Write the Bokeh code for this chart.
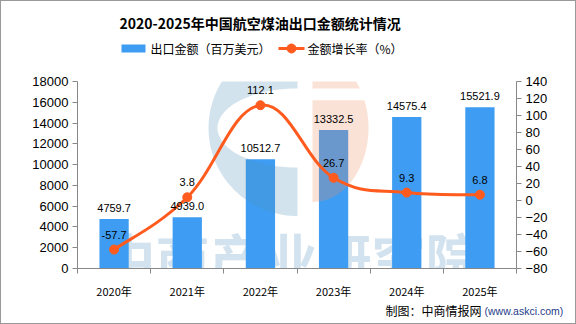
import numpy as np
from bokeh.plotting import figure
from bokeh.layouts import column
from bokeh.models import Range1d, LinearAxis, FixedTicker, Label
from bokeh.core.properties import value
from bokeh.embed import file_html
from bokeh.resources import INLINE

years = ["2020年", "2021年", "2022年", "2023年", "2024年", "2025年"]
export_value = [4759.7, 4939.0, 10512.7, 13332.5, 14575.4, 15521.9]
growth = [-57.7, 3.8, 112.1, 26.7, 9.3, 6.8]
left_ticks = list(range(0, 18001, 2000))
right_ticks = list(range(-80, 141, 20))

TITLE = "2020-2025年中国航空煤油出口金额统计情况"
BAR_NAME = "出口金额（百万美元）"
LINE_NAME = "金额增长率（%）"
SOURCE = "制图：中商情报网"
SOURCE_URL = "(www.askci.com)"
WATERMARK = "中商产业研究院"

BAR = "#3E9DF2"
LINE = "#FF5B1F"
AXIS = "#888888"
CJK = "Noto Sans CJK SC"
NUM = "Liberation Sans"
W = 574
HEAD_H, MAIN_H, FOOT_H = 70, 230, 22
ML, MR, MT, MB = 76, 59, 10, 31
FW, FH = W - ML - MR, MAIN_H - MT - MB

xs = list(range(len(years)))
YMAX = 18000


def bare(h, w=W):
    f = figure(width=w, height=h, output_backend="svg", toolbar_location=None,
               x_axis_type=None, y_axis_type=None, min_border=0, frame_align=False,
               x_range=Range1d(0, w), y_range=Range1d(h, 0))
    f.grid.visible = False
    f.outline_line_color = None
    return f


# ---------- header: title + hand-drawn legend ----------
head = bare(HEAD_H)
head.text(x=[118], y=[21], text=[TITLE], text_align="left", text_baseline="middle",
          text_font=value(CJK), text_font_size="14px", text_font_style="bold",
          text_color="black")
head.quad(left=[120], right=[144], top=[43], bottom=[51], fill_color=BAR, line_color=None)
head.text(x=[149], y=[47], text=[BAR_NAME], text_align="left", text_baseline="middle",
          text_font=value(CJK), text_font_size="12px", text_color="black")
head.segment(x0=[277], y0=[47], x1=[303], y1=[47], line_color=LINE, line_width=3)
head.scatter(x=[290], y=[47], size=9, fill_color=LINE, line_color=LINE)
head.text(x=[306], y=[47], text=[LINE_NAME], text_align="left", text_baseline="middle",
          text_font=value(CJK), text_font_size="12px", text_color="black")

# ---------- main plot ----------
p = figure(width=W, height=MAIN_H, output_backend="svg", toolbar_location=None,
           frame_align=False,
           x_range=Range1d(-0.5, len(years) - 0.5), y_range=Range1d(0, YMAX),
           min_border_left=ML, min_border_right=MR, min_border_top=MT, min_border_bottom=MB)
p.extra_y_ranges = {"growth": Range1d(-80, 140)}
p.xgrid.visible = False
p.ygrid.visible = False
p.outline_line_color = None

# watermark text, behind the bars
p.add_layout(Label(x=213, y=12, x_units="screen", y_units="screen", text=WATERMARK,
                   text_align="center", text_baseline="middle", text_font=CJK,
                   text_font_size="54px", text_font_style="bold", text_color="#D2E3EF",
                   level="underlay"))

# x axis
p.xaxis.ticker = FixedTicker(ticks=xs, minor_ticks=[i - 0.5 for i in range(len(years) + 1)])
p.xaxis.major_label_overrides = {i: y for i, y in zip(xs, years)}
p.xaxis.major_tick_line_color = None
p.xaxis.minor_tick_line_color = AXIS
p.xaxis.minor_tick_out = 5
p.xaxis.minor_tick_in = 0
p.xaxis.axis_line_color = AXIS
p.xaxis.major_label_text_font = CJK
p.xaxis.major_label_text_font_size = "11px"
p.xaxis.major_label_text_color = "black"
p.xaxis.major_label_standoff = 8

p.yaxis.ticker = FixedTicker(ticks=left_ticks)
ra = LinearAxis(y_range_name="growth", ticker=FixedTicker(ticks=right_ticks))
p.add_layout(ra, "right")
for ax in [p.yaxis[0], ra]:
    ax.axis_line_color = AXIS
    ax.major_tick_line_color = AXIS
    ax.major_tick_out = 5
    ax.major_tick_in = 0
    ax.minor_tick_line_color = None
    ax.major_label_text_font = NUM
    ax.major_label_text_font_size = "13px"
    ax.major_label_text_color = "black"
    ax.major_label_standoff = 4

p.vbar(x=xs, top=export_value, width=0.4, fill_color=BAR, line_color=None)


# decorative logo watermark (translucent, over the bars), in frame px mapped to data units
def to_data(sx, sy):
    sx = np.asarray(sx, dtype=float); sy = np.asarray(sy, dtype=float)
    return (-0.5 + sx / FW * len(years)), (sy / FH * YMAX)


cx, cy = 220, 142   # logo centre, px from frame left / bottom
t = np.linspace(np.pi / 2, 3 * np.pi / 2, 80)
c_x = np.concatenate([cx + 89 * np.cos(t), cx + 80 * np.cos(t[::-1])])
c_y = np.concatenate([cy + 89 * np.sin(t), cy + 40 * np.sin(t[::-1])])
bx, by = to_data(c_x, c_y)
p.patch(bx, by, fill_color="#4F8FBB", fill_alpha=0.25, line_color=None)


def half_ellipse_band(y_lo, y_hi):
    yy = np.linspace(y_lo, y_hi, 50)
    xx = cx + 15 + 56 * np.sqrt(np.clip(1 - (yy / 75) ** 2, 0, 1))
    px = np.concatenate([xx, [cx + 15, cx + 15]])
    py = np.concatenate([yy, [y_hi, y_lo]]) + cy
    return to_data(px, py)


for lo, hi in [(-75, 28), (40, 75)]:
    ox, oy = half_ellipse_band(lo, hi)
    p.patch(ox, oy, fill_color="#EF8B5F", fill_alpha=0.25, line_color=None)

# smooth curve via bezier segments (Catmull-Rom style control points from the data)
n = len(growth)
x0, y0, x1, y1, cx0, cy0, cx1, cy1 = [], [], [], [], [], [], [], []
s = 0.2
for i in range(n - 1):
    pxm = xs[max(i - 1, 0)]; pym = growth[max(i - 1, 0)]
    pxp = xs[min(i + 2, n - 1)]; pyp = growth[min(i + 2, n - 1)]
    x0.append(xs[i]); y0.append(growth[i])
    x1.append(xs[i + 1]); y1.append(growth[i + 1])
    cx0.append(xs[i] + (xs[i + 1] - pxm) * s)
    cy0.append(growth[i] + (growth[i + 1] - pym) * s)
    cx1.append(xs[i + 1] - (pxp - xs[i]) * s)
    cy1.append(growth[i + 1] - (pyp - growth[i]) * s)
p.bezier(x0=x0, y0=y0, x1=x1, y1=y1, cx0=cx0, cy0=cy0, cx1=cx1, cy1=cy1,
         line_color=LINE, line_width=3, y_range_name="growth")
p.scatter(x=xs, y=growth, size=9, fill_color=LINE, line_color=LINE, y_range_name="growth")

p.text(x=xs, y=export_value, text=[f"{v:.1f}" for v in export_value],
       text_align="center", text_baseline="bottom", y_offset=-7,
       text_font=value(NUM), text_font_size="11px", text_color="black")
p.text(x=xs, y=growth, text=[f"{v:.1f}" for v in growth],
       text_align="center", text_baseline="bottom", y_offset=-11,
       text_font=value(NUM), text_font_size="11px", text_color="black", y_range_name="growth")

# ---------- footer ----------
foot = bare(FOOT_H)
foot.text(x=[384], y=[9], text=[SOURCE], text_align="left", text_baseline="middle",
          text_font=value(CJK), text_font_size="12px", text_color="black")
foot.text(x=[483], y=[9], text=[SOURCE_URL], text_align="left", text_baseline="middle",
          text_font=value(NUM), text_font_size="10.5px", text_color="#1F3C88")

layout = column(head, p, foot, spacing=0)
layout.styles = {"border": "1px solid #999999"}

open("out.html", "w").write(file_html(layout, INLINE))
